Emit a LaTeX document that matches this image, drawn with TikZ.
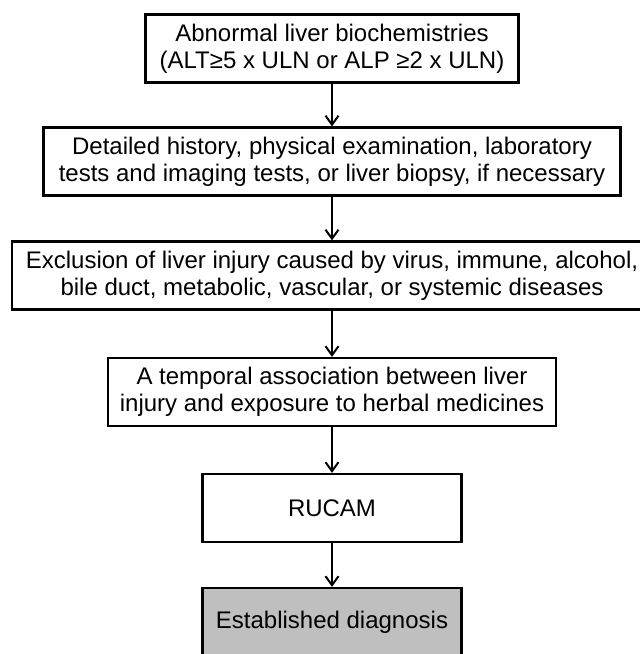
\documentclass[tikz,border=0pt]{standalone}
\usepackage{fontspec}
\setmainfont{Liberation Sans}
\usetikzlibrary{arrows.meta}
\begin{document}
\begin{tikzpicture}[x=1pt, y=1pt,
        box/.style={draw, line width=2.2pt, minimum height=68pt, inner sep=0pt,
                align=center, font=\fontsize{24}{27}\selectfont},
        flow/.style={-{Straight Barb[length=9pt, width=13pt]}, line width=2pt}]
        \useasboundingbox (0, 0) rectangle (640, 654);
        \node[box, minimum width=373pt] (abnormal) at (332, 605.5)
              {Abnormal liver biochemistries\\(ALT≥5 x ULN or ALP ≥2 x ULN)};
        \node[box, minimum width=577pt] (history) at (332, 492.5)
              {Detailed history, physical examination, laboratory\\tests and imaging tests, or liver biopsy, if necessary};
        \node[box, minimum width=640pt] (exclusion) at (332, 378.5)
              {Exclusion of liver injury caused by virus, immune, alcohol,\\bile duct, metabolic, vascular, or systemic diseases};
        \node[box, minimum width=448pt] (temporal) at (332, 262)
              {A temporal association between liver\\injury and exposure to herbal medicines};
        \node[box, minimum width=259pt] (rucam) at (332, 146) {RUCAM};
        \node[box, minimum width=259pt, fill=black!25] (diagnosis) at (332, 32)
              {Established diagnosis};
        \draw[flow] (abnormal.south) -- (history.north);
        \draw[flow] (history.south) -- (exclusion.north);
        \draw[flow] (exclusion.south) -- (temporal.north);
        \draw[flow] (temporal.south) -- (rucam.north);
        \draw[flow] (rucam.south) -- (diagnosis.north);
\end{tikzpicture}
\end{document}
